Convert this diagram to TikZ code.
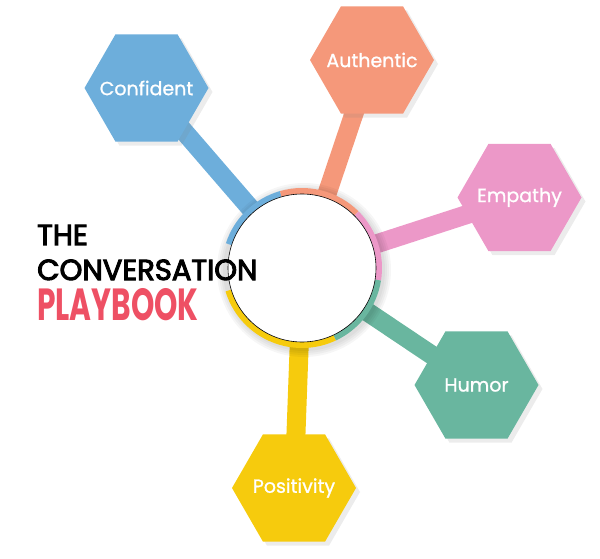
\documentclass[tikz,border=0pt]{standalone}
\usepackage{fontspec}
\usepackage{graphicx}
\setmainfont{Poppins}
\newfontfamily\titlefont{Poppins}[FakeBold=3.5]
\newfontfamily\hexfont{Poppins}[FakeBold=1]
\usetikzlibrary{shapes.geometric,shadows,backgrounds}
\definecolor{cblue}{HTML}{6DAEDB}
\definecolor{corange}{HTML}{F5987A}
\definecolor{cpink}{HTML}{EC98C8}
\definecolor{cgreen}{HTML}{69B69F}
\definecolor{cyellow}{HTML}{F6CB0D}
\definecolor{cred}{HTML}{EE5064}

\begin{document}
\begin{tikzpicture}[x=1pt,y=1pt,
  hexa/.style={regular polygon, regular polygon sides=6, minimum size=124pt,
    inner sep=0pt, outer sep=0pt,
    drop shadow={shadow xshift=4pt, shadow yshift=-4pt, opacity=0.15}},
  hexlabel/.style={text=white, font=\hexfont\fontsize{19}{21}\selectfont},
  spoke/.style={line width=19pt},
  ring/.style={line width=6pt},
  title/.style={anchor=base west, inner sep=0pt}]
  \useasboundingbox (0,0) rectangle (600,558);
  \coordinate (c) at (302,290);

  % halo round the hub
  \foreach \r in {81,83,85,87}
    \fill[black, opacity=0.035] ([shift={(2,-2)}]c) circle (\r pt);

  % colour ring
  \draw[ring, cblue]   (c) ++(106:77) arc[start angle=106, end angle=162, radius=77pt];
  \draw[ring, corange] (c) ++(45:77)  arc[start angle=45,  end angle=106, radius=77pt];
  \draw[ring, cpink]   (c) ++(-9:77)  arc[start angle=-9,  end angle=45,  radius=77pt];
  \draw[ring, cgreen]  (c) ++(-65:77) arc[start angle=-65, end angle=-9,  radius=77pt];
  \draw[ring, cyellow] (c) ++(197:77) arc[start angle=197, end angle=295, radius=77pt];

  \node[circle, fill=white, draw=black, line width=0.6pt, minimum size=148pt] (hub) at (c) {};

  \node[hexa, fill=cblue]   (conf) at (146.5,470)   {};
  \node[hexa, fill=corange] (auth) at (372,498)     {};
  \node[hexa, fill=cpink]   (emp)  at (519.5,360.5) {};
  \node[hexa, fill=cgreen]  (hum)  at (476.5,173)   {};
  \node[hexa, fill=cyellow] (pos)  at (294,70)      {};
  \node[hexlabel] (confl) at (conf) {Confident};
  \node[hexlabel] (authl) at (auth) {Authentic};
  \node[hexlabel] (empl)  at (emp)  {Empathy};
  \node[hexlabel] (huml)  at (hum)  {Humor};
  \node[hexlabel] (posl)  at (pos)  {Positivity};

  \begin{scope}[on background layer]
    \draw[spoke, cblue]   (hub.center) -- (conf.center);
    \draw[spoke, corange] (hub.center) -- (auth.center);
    \draw[spoke, cpink]   (hub.center) -- (emp.center);
    \draw[spoke, cgreen]  (hub.center) -- (hum.center);
    \draw[spoke, cyellow] (hub.center) -- (pos.center);
  \end{scope}

  % title
  \node[title, font=\titlefont\fontsize{29}{30}\selectfont] (the) at (37,313) {THE};
  \node[title, font=\titlefont\fontsize{29}{30}\selectfont] (conv) at (37,278) {CONVERSATION};
  \node[title, text=cred, font=\bfseries\fontsize{45}{46}\selectfont] (play) at (37,238)
    {\scalebox{0.66}[1]{PLAYBOOK}};
\end{tikzpicture}
\end{document}
